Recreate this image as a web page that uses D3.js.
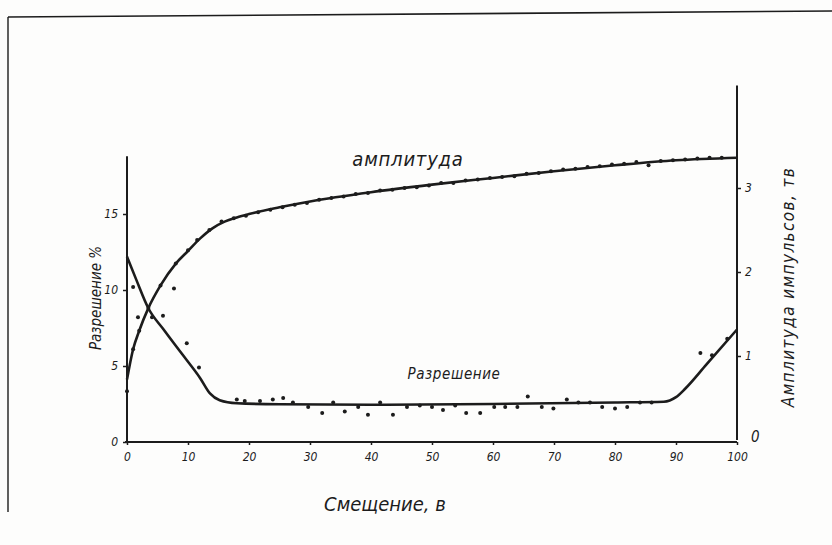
<!DOCTYPE html>
<html>
<head>
<meta charset="utf-8">
<script src="https://cdn.jsdelivr.net/npm/d3@7"></script>
<style>
  html, body { margin: 0; padding: 0; background: #fdfdfc; }
  svg { display: block; }
  text { font-family: "Liberation Sans Narrow", "DejaVu Sans Condensed", "Liberation Sans", sans-serif; font-style: italic; fill: #1c1c1c; }
</style>
</head>
<body>
<svg id="chart" width="832" height="545"></svg>
<script>
// Смещение, в — x values of the measured points
const xTicks = [0, 10, 20, 30, 40, 50, 60, 70, 80, 90, 100];
const leftTicks = [0, 5, 10, 15];
const rightTicks = [1, 2, 3];

// Амплитуда импульсов (right axis), measured points
const ampX = [0, 1, 2, 3.5, 5.5, 8, 10, 11.5, 13.5, 15.5, 17.5, 19.5, 21.5, 23.5, 25.5, 27.5, 29.5,
  31.5, 33.5, 35.5, 37.5, 39.5, 41.5, 43.5, 45.5, 47.5, 49.5, 51.5, 53.5, 55.5, 57.5, 59.5,
  61.5, 63.5, 65.5, 67.5, 69.5, 71.5, 73.5, 75.5, 77.5, 79.5, 81.5, 83.5, 85.5, 87.5, 89.5,
  91.5, 93.5, 95.5, 97.5];
const ampY = [0.58, 1.08, 1.3, 1.57, 1.84, 2.1, 2.26, 2.38, 2.5, 2.6, 2.64, 2.67, 2.71, 2.74, 2.77, 2.8, 2.82,
  2.86, 2.88, 2.9, 2.93, 2.94, 2.97, 2.98, 3.0, 3.01, 3.03, 3.06, 3.06, 3.09, 3.1, 3.12,
  3.13, 3.14, 3.17, 3.18, 3.2, 3.22, 3.23, 3.25, 3.26, 3.28, 3.29, 3.31, 3.27, 3.32, 3.33,
  3.34, 3.35, 3.36, 3.36];

// Smoothed amplitude curve
const ampCurveX = [0, 1, 2, 3.5, 5.5, 8, 10, 12, 14, 16, 18, 20, 25, 30, 40, 50, 60, 70, 80, 90, 100];
const ampCurveY = [0.72, 1.08, 1.3, 1.57, 1.84, 2.1, 2.25, 2.4, 2.52, 2.6, 2.65, 2.69, 2.77, 2.84, 2.95, 3.04, 3.12, 3.2, 3.27, 3.33, 3.36];

// Разрешение, % (left axis), measured points
const resX = [1, 1.8, 4.1, 5.9, 7.7, 9.8, 11.8, 18, 19.3, 21.8, 23.9, 25.6, 27.2, 29.7, 32, 33.8,
  35.7, 37.9, 39.5, 41.5, 43.6, 45.9, 48, 50, 51.8, 53.8, 55.6, 57.9, 60.2, 62, 64, 65.7,
  68, 69.9, 72.1, 74, 75.9, 77.9, 80, 82, 84.1, 86, 94, 95.9, 98.4];
const resY = [10.2, 8.2, 8.2, 8.3, 10.1, 6.5, 4.9, 2.8, 2.7, 2.7, 2.8, 2.9, 2.6, 2.3, 1.9, 2.6,
  2.0, 2.3, 1.8, 2.6, 1.8, 2.3, 2.4, 2.3, 2.1, 2.4, 1.9, 1.9, 2.3, 2.3, 2.3, 3.0,
  2.3, 2.2, 2.8, 2.6, 2.6, 2.3, 2.2, 2.3, 2.6, 2.6, 5.85, 5.7, 6.8];

// Smoothed resolution curve
const resCurveX = [0, 1.5, 3.5, 6, 9, 12, 13.6, 15.2, 18, 25, 40, 60, 80, 88, 90, 91.5, 95, 100];
const resCurveY = [12.2, 10.7, 8.8, 7.4, 5.8, 4.2, 3.2, 2.75, 2.55, 2.48, 2.45, 2.5, 2.6, 2.65, 2.95, 3.5, 5.1, 7.4];

const ink = "#1c1c1c";
const svg = d3.select("#chart");

const x = d3.scaleLinear().domain([0, 100]).range([127, 737]);
const yL = d3.scaleLinear().domain([0, 15]).range([442, 214]);
const yR = d3.scaleLinear().domain([0, 3]).range([440, 188]);

// Outer frame of the sheet
svg.append("line").attr("x1", 8).attr("y1", 17).attr("x2", 832).attr("y2", 11)
  .attr("stroke", ink).attr("stroke-width", 1.6);
svg.append("line").attr("x1", 8).attr("y1", 17).attr("x2", 8).attr("y2", 512)
  .attr("stroke", ink).attr("stroke-width", 1.4);

// Axis lines
svg.append("line").attr("x1", x(0) - 2).attr("x2", x(100)).attr("y1", yL(0)).attr("y2", yL(0))
  .attr("stroke", ink).attr("stroke-width", 2);
svg.append("line").attr("x1", x(0)).attr("x2", x(0)).attr("y1", yL(0)).attr("y2", yL(18.8))
  .attr("stroke", ink).attr("stroke-width", 2);
svg.append("line").attr("x1", x(100)).attr("x2", x(100)).attr("y1", yR(0)).attr("y2", yR(4.22))
  .attr("stroke", ink).attr("stroke-width", 2);

// Bottom axis
const gx = svg.append("g").attr("transform", `translate(0,${yL(0)})`)
  .call(d3.axisBottom(x).tickValues(xTicks).tickSize(3).tickPadding(7).tickFormat(d3.format("d")));
gx.select(".domain").remove();
gx.selectAll("line").attr("stroke", ink).attr("stroke-width", 1.5);
gx.selectAll("text").attr("font-size", 12).attr("fill", ink);

// Left axis
const gl = svg.append("g").attr("transform", `translate(${x(0)},0)`)
  .call(d3.axisLeft(yL).tickValues(leftTicks).tickSize(4).tickPadding(5).tickFormat(d3.format("d")));
gl.select(".domain").remove();
gl.selectAll("line").attr("stroke", ink).attr("stroke-width", 1.5);
gl.selectAll("text").attr("font-size", 12).attr("fill", ink);

// Right axis
const gr = svg.append("g").attr("transform", `translate(${x(100)},0)`)
  .call(d3.axisRight(yR).tickValues(rightTicks).tickSize(4).tickPadding(4).tickFormat(d3.format("d")));
gr.select(".domain").remove();
gr.selectAll("line").attr("stroke", ink).attr("stroke-width", 1.5);
gr.selectAll("text").attr("font-size", 12).attr("fill", ink);
svg.append("text").attr("x", x(100) + 14).attr("y", yR(0) + 2)
  .attr("font-size", 15).text("0");

// Curves
const ampLine = d3.line().x(d => x(d[0])).y(d => yR(d[1])).curve(d3.curveMonotoneX);
const resLine = d3.line().x(d => x(d[0])).y(d => yL(d[1])).curve(d3.curveMonotoneX);

svg.append("path").datum(d3.zip(ampCurveX, ampCurveY))
  .attr("d", ampLine).attr("fill", "none").attr("stroke", ink).attr("stroke-width", 2.6);
svg.append("path").datum(d3.zip(resCurveX, resCurveY))
  .attr("d", resLine).attr("fill", "none").attr("stroke", ink).attr("stroke-width", 2.6);

// Measured points
svg.append("g").selectAll("circle").data(d3.zip(ampX, ampY)).join("circle")
  .attr("cx", d => x(d[0])).attr("cy", d => yR(d[1])).attr("r", 2).attr("fill", ink);
svg.append("g").selectAll("circle").data(d3.zip(resX, resY)).join("circle")
  .attr("cx", d => x(d[0])).attr("cy", d => yL(d[1])).attr("r", 2).attr("fill", ink);

// Curve labels
svg.append("text").attr("x", 408).attr("y", 166).attr("text-anchor", "middle")
  .attr("font-size", 20).attr("letter-spacing", 0.8).text("амплитуда");
svg.append("text").attr("x", 454).attr("y", 379).attr("text-anchor", "middle")
  .attr("font-size", 15).attr("letter-spacing", 0.6).text("Разрешение");

// Axis titles
svg.append("text").attr("x", 385).attr("y", 511).attr("text-anchor", "middle")
  .attr("font-size", 20).text("Смещение, в");
svg.append("text").attr("transform", "translate(101,298) rotate(-90)").attr("text-anchor", "middle")
  .attr("font-size", 15).text("Разрешение %");
svg.append("text").attr("transform", "translate(794,287) rotate(-90)").attr("text-anchor", "middle")
  .attr("font-size", 17).attr("letter-spacing", 1.4).text("Амплитуда импульсов, тв");
</script>
</body>
</html>
